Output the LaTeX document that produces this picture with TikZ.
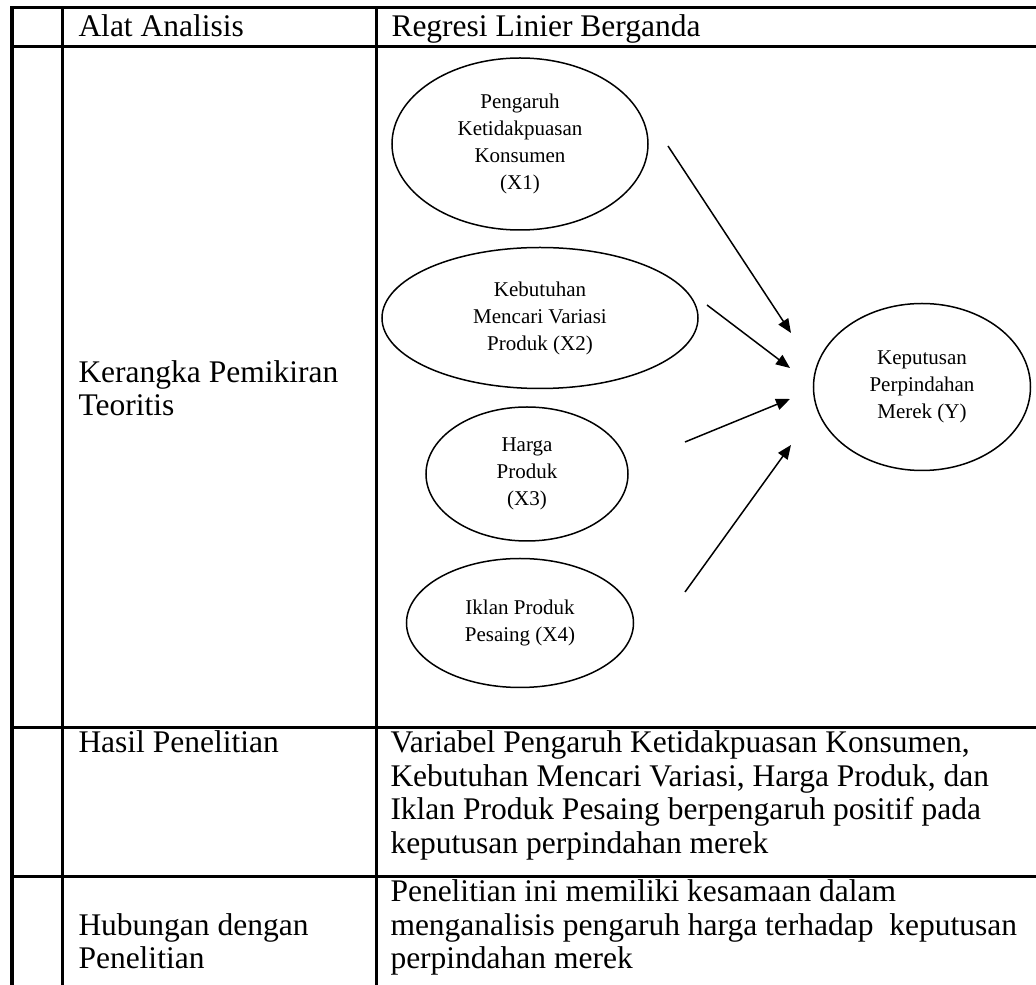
\documentclass[tikz,border=0pt]{standalone}
\usepackage{fontspec}
\setmainfont{Liberation Serif}
\usetikzlibrary{positioning, shapes.geometric, arrows.meta}

\begin{document}
\begin{tikzpicture}[
    x=0.4pt, y=-0.4pt,
    >={Triangle[length=5.6pt, width=4.6pt]},
    garis/.style={line width=1.2pt, line cap=rect},
    teks/.style={anchor=base west, inner sep=0pt, align=left, font=\fontsize{12.6}{13.4}\selectfont},
    variabel/.style={ellipse, draw, line width=0.6pt, inner sep=0pt, align=center, font=\fontsize{8.4}{10.8}\selectfont},
    panah/.style={->, line width=0.6pt}
]
\useasboundingbox (0,0) rectangle (1036,985);

% 表格线
\draw[garis] (12,8) -- (1036,8);
\draw[garis] (12,47) -- (1036,47);
\draw[garis] (12,728) -- (1036,728);
\draw[garis] (12,877) -- (1036,877);
\draw[garis] (12,8) -- (12,985);
\draw[garis] (62,8) -- (62,985);
\draw[garis] (376,8) -- (376,985);

% 表格文字 (多行节点以最后一行基线定位)
\node[teks] (alat) at (78,37) {Alat Analisis};
\node[teks] (regresi) at (391,37) {Regresi Linier Berganda};
\node[teks] (kerangka) at (78,416) {Kerangka Pemikiran\\Teoritis};
\node[teks] (hasil) at (78,753) {Hasil Penelitian};
\node[teks] (hasilisi) at (390,853.5) {Variabel Pengaruh Ketidakpuasan Konsumen,\\Kebutuhan Mencari Variasi, Harga Produk, dan\\Iklan Produk Pesaing berpengaruh positif pada\\keputusan perpindahan merek};
\node[teks] (hubungan) at (78,969) {Hubungan dengan\\Penelitian};
\node[teks] (hubunganisi) at (390,969) {Penelitian ini memiliki kesamaan dalam\\menganalisis pengaruh harga terhadap~ keputusan\\perpindahan merek};

% 变量节点
\node[variabel, minimum width=102.4pt, minimum height=68.8pt] (x1) at (520,144) {Pengaruh\\Ketidakpuasan\\Konsumen\\(X1)};
\node[variabel, minimum width=126.4pt, minimum height=56.4pt] (x2) at (540,318) {Kebutuhan\\Mencari Variasi\\Produk (X2)};
\node[variabel, minimum width=80.8pt, minimum height=53.6pt] (x3) at (527,474) {Harga\\Produk\\(X3)};
\node[variabel, minimum width=90.8pt, minimum height=51.6pt] (x4) at (520,623) {Iklan Produk\\Pesaing (X4)};
\node[variabel, minimum width=86.8pt, minimum height=66.8pt] (y) at (922,387) {Keputusan\\Perpindahan\\Merek (Y)};

% 箭头
\coordinate (a1) at (668,146);
\coordinate (b1) at (791,333);
\coordinate (a2) at (707,305);
\coordinate (b2) at (790,368);
\coordinate (a3) at (685,442);
\coordinate (b3) at (790,399);
\coordinate (a4) at (685,592);
\coordinate (b4) at (791,445);
\draw[panah] (a1) -- (b1);
\draw[panah] (a2) -- (b2);
\draw[panah] (a3) -- (b3);
\draw[panah] (a4) -- (b4);

\end{tikzpicture}
\end{document}
